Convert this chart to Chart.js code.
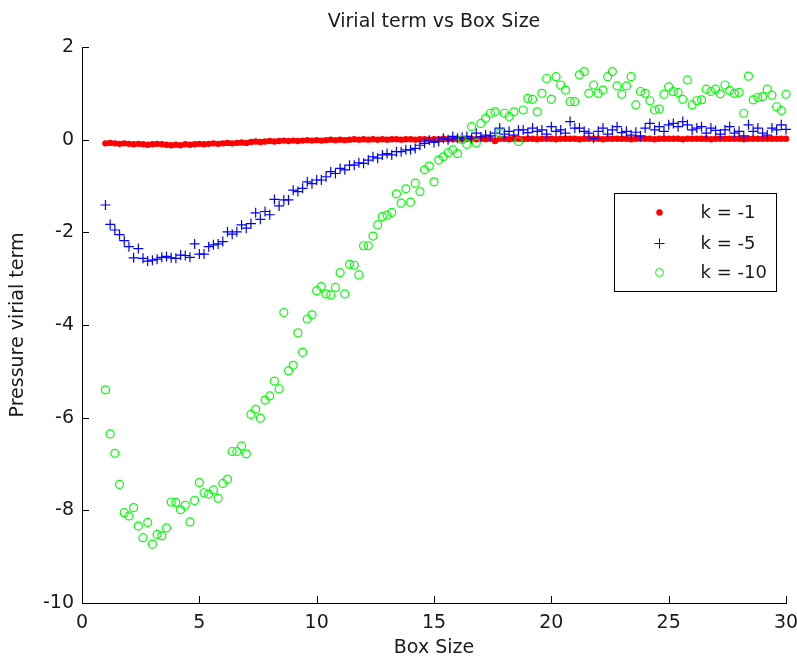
<!DOCTYPE html>
<html>
<head>
<meta charset="utf-8">
<title>Virial term vs Box Size</title>
<script src="https://cdn.jsdelivr.net/npm/chart.js@4.4.1/dist/chart.umd.min.js"></script>
<style>
  html, body { margin: 0; padding: 0; background: #fff; }
  canvas { display: block; }
</style>
</head>
<body>
<canvas id="chart" width="797" height="659"></canvas>
<script>
// box sizes (x) shared by the three runs
const boxSize = [
  1,1.2,1.4,1.6,1.8,2,2.2,2.4,2.6,2.8,3,3.2,3.4,3.6,3.8,4,4.2,4.4,4.6,4.8,
  5,5.2,5.4,5.6,5.8,6,6.2,6.4,6.6,6.8,7,7.2,7.4,7.6,7.8,8,8.2,8.4,8.6,8.8,
  9,9.2,9.4,9.6,9.8,10,10.2,10.4,10.6,10.8,11,11.2,11.4,11.6,11.8,12,12.2,12.4,12.6,12.8,
  13,13.2,13.4,13.6,13.8,14,14.2,14.4,14.6,14.8,15,15.2,15.4,15.6,15.8,16,16.2,16.4,16.6,16.8,
  17,17.2,17.4,17.6,17.8,18,18.2,18.4,18.6,18.8,19,19.2,19.4,19.6,19.8,20,20.2,20.4,20.6,20.8,
  21,21.2,21.4,21.6,21.8,22,22.2,22.4,22.6,22.8,23,23.2,23.4,23.6,23.8,24,24.2,24.4,24.6,24.8,
  25,25.2,25.4,25.6,25.8,26,26.2,26.4,26.6,26.8,27,27.2,27.4,27.6,27.8,28,28.2,28.4,28.6,28.8,
  29,29.2,29.4,29.6,29.8,30
];

// pressure virial term, k = -1
const virialK1 = [
  -0.08,-0.07,-0.08,-0.09,-0.08,-0.09,-0.10,-0.09,-0.10,-0.11,
  -0.10,-0.09,-0.10,-0.11,-0.12,-0.11,-0.12,-0.10,-0.11,-0.10,
  -0.09,-0.10,-0.09,-0.08,-0.09,-0.08,-0.07,-0.08,-0.07,-0.06,
  -0.07,-0.05,-0.04,-0.05,-0.04,-0.03,-0.04,-0.03,-0.02,-0.03,
  -0.02,-0.03,-0.02,-0.01,-0.02,-0.01,-0.02,-0.01,0.00,-0.01,
  0.00,-0.01,0.00,0.01,0.00,0.01,0.00,0.01,0.00,0.01,
  0.00,0.01,0.01,0.00,0.01,0.01,0.00,0.01,0.01,0.00,
  0.01,0.01,0.02,0.01,0.01,0.02,0.01,0.02,0.02,0.01,
  0.02,0.01,0.02,-0.03,0.02,0.02,0.01,0.02,0.02,0.01,
  0.02,0.02,0.01,0.02,0.02,0.02,0.01,0.02,0.02,0.02,
  0.02,0.01,0.02,0.02,0.02,0.02,0.01,0.02,0.02,0.02,
  0.02,0.02,0.01,0.02,0.02,0.02,0.02,0.01,0.02,0.02,
  0.02,0.02,0.02,0.01,0.02,0.02,0.02,0.02,0.02,0.01,
  0.02,0.02,0.02,0.02,0.02,0.02,0.01,0.02,0.02,0.02,
  0.02,0.02,0.02,0.02,0.02,0.02
];

// k = -5
const virialK5 = [
  -1.41,-1.83,-1.95,-2.05,-2.18,-2.31,-2.55,-2.35,-2.56,-2.62,
  -2.60,-2.58,-2.54,-2.52,-2.55,-2.56,-2.49,-2.50,-2.54,-2.25,
  -2.47,-2.47,-2.31,-2.27,-2.25,-2.20,-1.99,-2.04,-1.99,-1.84,
  -1.91,-1.81,-1.58,-1.72,-1.55,-1.62,-1.29,-1.43,-1.30,-1.30,
  -1.09,-1.12,-1.05,-0.91,-0.95,-0.87,-0.87,-0.80,-0.69,-0.73,
  -0.62,-0.65,-0.55,-0.55,-0.50,-0.51,-0.44,-0.37,-0.40,-0.33,
  -0.30,-0.33,-0.26,-0.26,-0.22,-0.22,-0.19,-0.12,-0.08,-0.01,
  -0.06,-0.04,0.03,0.00,0.07,0.03,0.05,0.07,0.02,0.14,
  0.06,0.10,0.08,0.14,0.25,0.12,0.18,0.10,0.21,0.21,
  0.15,0.25,0.18,0.21,0.12,0.28,0.18,0.21,0.14,0.39,
  0.25,0.25,0.18,0.14,0.03,0.18,0.25,0.12,0.21,0.28,
  0.15,0.18,0.10,0.16,0.08,0.25,0.35,0.21,0.28,0.18,
  0.32,0.35,0.28,0.39,0.32,0.21,0.25,0.28,0.14,0.25,
  0.20,0.12,0.21,0.28,0.14,0.18,0.08,0.32,0.18,0.25,
  0.14,0.10,0.25,0.21,0.32,0.22
];

// k = -10
const virialK10 = [
  -5.40,-6.35,-6.77,-7.44,-8.05,-8.12,-7.94,-8.34,-8.59,-8.26,
  -8.73,-8.52,-8.55,-8.38,-7.82,-7.83,-7.99,-7.89,-8.25,-7.79,
  -7.40,-7.62,-7.65,-7.56,-7.74,-7.42,-7.33,-6.73,-6.73,-6.61,
  -6.78,-5.93,-5.82,-6.01,-5.62,-5.53,-5.21,-5.38,-3.73,-4.99,
  -4.87,-4.17,-4.59,-3.87,-3.78,-3.26,-3.17,-3.33,-3.35,-3.19,
  -2.87,-3.33,-2.69,-2.71,-2.92,-2.29,-2.29,-2.08,-1.84,-1.66,
  -1.63,-1.57,-1.17,-1.37,-1.06,-1.35,-0.94,-1.12,-0.65,-0.57,
  -0.91,-0.44,-0.37,-0.28,-0.22,-0.30,0.00,-0.10,0.28,-0.07,
  0.35,0.46,0.57,0.60,0.14,0.57,0.50,0.60,-0.04,0.64,
  0.89,0.87,0.60,1.00,1.32,0.87,1.36,1.18,1.07,0.82,
  0.82,1.40,1.47,1.00,1.18,1.00,1.07,1.36,1.47,1.16,
  0.98,1.16,1.36,0.75,1.04,1.00,0.84,0.64,0.66,0.98,
  1.14,1.04,1.02,0.87,1.29,0.75,0.84,0.86,1.09,1.04,
  1.09,0.99,1.18,1.06,1.00,1.02,0.57,1.37,0.86,0.91,
  0.93,1.09,0.96,0.71,0.63,0.98
];

const seriesNames = ["k = -1", "k = -5", "k = -10"];
const chartTitle = "Virial term vs Box Size";

const FONT = "DejaVu Sans";
const INK = "#1a1a1a";
const font = size => ({ family: FONT, size });

const pts = ys => boxSize.map((x, i) => ({ x, y: ys[i] }));

// white page, inward ticks, title and the boxed legend (matlab look)
const matlabLook = {
  id: "matlabLook",
  beforeDraw(chart) {
    const ctx = chart.ctx;
    ctx.save();
    ctx.fillStyle = "#fff";
    ctx.fillRect(0, 0, chart.width, chart.height);
    ctx.restore();
  },
  afterDraw(chart) {
    const { ctx, chartArea: a, scales: { x, y } } = chart;
    ctx.save();
    ctx.strokeStyle = "#000";
    ctx.lineWidth = 1;
    ctx.beginPath();
    x.ticks.forEach(t => {
      const px = Math.round(x.getPixelForValue(t.value)) + 0.5;
      ctx.moveTo(px, a.bottom);
      ctx.lineTo(px, a.bottom - 7);
    });
    y.ticks.forEach(t => {
      const py = Math.round(y.getPixelForValue(t.value)) + 0.5;
      ctx.moveTo(a.left, py);
      ctx.lineTo(a.left + 7, py);
    });
    ctx.stroke();

    ctx.fillStyle = INK;
    ctx.font = `19px ${FONT}`;
    ctx.textAlign = "center";
    ctx.textBaseline = "middle";
    ctx.fillText(chartTitle, (a.left + a.right) / 2, 22);

    // legend box
    const lx = Math.round(a.right - 172) + 0.5, ly = Math.round(a.top + 146) + 0.5;
    ctx.fillStyle = "#fff";
    ctx.fillRect(lx, ly, 162, 98);
    ctx.strokeStyle = "#000";
    ctx.strokeRect(lx, ly, 162, 98);
    const rows = [19, 50, 79];
    chart.data.datasets.forEach((ds, i) => {
      const mx = lx + 45, my = ly + rows[i];
      ctx.beginPath();
      if (ds.pointStyle === "cross") {
        ctx.strokeStyle = ds.borderColor;
        ctx.moveTo(mx - ds.pointRadius, my); ctx.lineTo(mx + ds.pointRadius, my);
        ctx.moveTo(mx, my - ds.pointRadius); ctx.lineTo(mx, my + ds.pointRadius);
        ctx.stroke();
      } else {
        ctx.arc(mx, my, ds.pointRadius, 0, Math.PI * 2);
        if (ds.backgroundColor !== "transparent") { ctx.fillStyle = ds.backgroundColor; ctx.fill(); }
        else { ctx.strokeStyle = ds.borderColor; ctx.stroke(); }
      }
      ctx.fillStyle = INK;
      ctx.font = `18px ${FONT}`;
      ctx.textAlign = "left";
      ctx.fillText(ds.label, lx + 86, my + 1);
    });
    ctx.restore();
  }
};

new Chart(document.getElementById("chart"), {
  type: "scatter",
  data: {
    datasets: [
      { label: seriesNames[0], data: pts(virialK1), pointStyle: "circle", pointRadius: 3.2,
        backgroundColor: "#ff0000", borderColor: "#ff0000", borderWidth: 0, order: 3, clip: false },
      { label: seriesNames[1], data: pts(virialK5), pointStyle: "cross", pointRadius: 5,
        backgroundColor: "#0000ff", borderColor: "#0000ff", borderWidth: 1.2, order: 2, clip: false },
      { label: seriesNames[2], data: pts(virialK10), pointStyle: "circle", pointRadius: 4,
        backgroundColor: "transparent", borderColor: "#00ff00", borderWidth: 1.2, order: 1, clip: false }
    ]
  },
  options: {
    responsive: false,
    animation: false,
    devicePixelRatio: 1,
    layout: { padding: { top: 47, right: 11, left: 0, bottom: 0 } },
    plugins: { legend: { display: false }, tooltip: { enabled: false } },
    scales: {
      x: {
        type: "linear", min: 0, max: 30,
        ticks: { stepSize: 5, color: INK, font: font(19), padding: 9, maxRotation: 0 },
        grid: { display: false, drawTicks: false },
        border: { display: true, color: "#000", width: 1 },
        title: { display: true, text: "Box Size", color: INK, font: font(19), padding: { top: 0, bottom: 0 } },
        afterFit(s) { s.height = 56; s.paddingLeft = 0; s.paddingRight = 0; }
      },
      y: {
        type: "linear", min: -10, max: 2,
        ticks: { stepSize: 2, color: INK, font: font(19), padding: 8 },
        grid: { display: false, drawTicks: false },
        border: { display: true, color: "#000", width: 1 },
        title: { display: true, text: "Pressure virial term", color: INK, font: font(19), padding: { top: 7, bottom: 0 } },
        afterFit(s) { s.width = 82; s.paddingTop = 0; s.paddingBottom = 0; }
      }
    }
  },
  plugins: [matlabLook]
});
</script>
</body>
</html>
